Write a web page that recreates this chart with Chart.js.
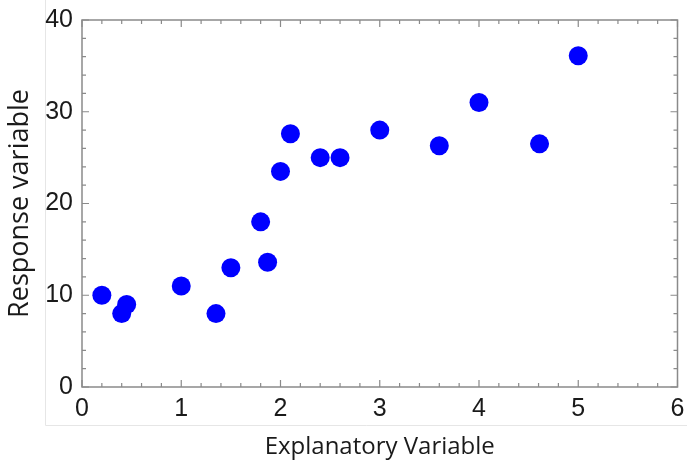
<!DOCTYPE html>
<html>
<head>
<meta charset="utf-8">
<script src="https://cdn.jsdelivr.net/npm/chart.js@4"></script>
<style>
  body { margin: 0; background: #fff; }
  #wrap { width: 687px; height: 463px; }
</style>
</head>
<body>
<div id="wrap"><canvas id="chart" width="687" height="463"></canvas></div>
<script>
// data
const xValues = [0.2, 0.4, 0.45, 1.0, 1.35, 1.5, 1.8, 1.87, 2.0, 2.1, 2.4, 2.6, 3.0, 3.6, 4.0, 4.61, 5.0];
const yValues = [10, 8, 9, 11, 8, 13, 18, 13.6, 23.5, 27.6, 25, 25, 28, 26.3, 31, 26.5, 36.1];
const xTicks = [0, 1, 2, 3, 4, 5, 6];
const yTicks = [0, 10, 20, 30, 40];
const xMinorStep = 0.2;
const yMinorStep = 2;
const xTitle = 'Explanatory Variable';
const yTitle = 'Response variable';

const points = xValues.map((x, i) => ({ x: x, y: yValues[i] }));

// light outer frame + axis box with inward ticks
const framePlugin = {
  id: 'frame',
  beforeDraw(chart) {
    const ctx = chart.ctx;
    ctx.save();
    ctx.strokeStyle = '#e6e6e6';
    ctx.lineWidth = 1;
    ctx.beginPath();
    ctx.moveTo(45.5, 0);
    ctx.lineTo(45.5, 425.5);
    ctx.lineTo(687, 425.5);
    ctx.stroke();
    ctx.restore();
  },
  beforeDatasetsDraw(chart) {
    const { ctx, chartArea: a, scales: { x, y } } = chart;
    ctx.save();
    ctx.strokeStyle = '#8a8a8a';
    ctx.lineWidth = 1.5;
    ctx.strokeRect(a.left, a.top, a.right - a.left, a.bottom - a.top);
    ctx.lineWidth = 1.2;
    ctx.beginPath();
    for (let v = 0; v <= 6.0001; v += xMinorStep) {
      const major = Math.abs(v - Math.round(v)) < 1e-6;
      const len = major ? 7 : 4;
      const px = x.getPixelForValue(v);
      ctx.moveTo(px, a.bottom); ctx.lineTo(px, a.bottom - len);
      ctx.moveTo(px, a.top); ctx.lineTo(px, a.top + len);
    }
    for (let v = 0; v <= 40.0001; v += yMinorStep) {
      const major = v % 10 === 0;
      const len = major ? 7 : 4;
      const py = y.getPixelForValue(v);
      ctx.moveTo(a.left, py); ctx.lineTo(a.left + len, py);
      ctx.moveTo(a.right, py); ctx.lineTo(a.right - len, py);
    }
    ctx.stroke();
    ctx.restore();
  }
};

new Chart(document.getElementById('chart'), {
  type: 'scatter',
  data: {
    datasets: [{
      data: points,
      backgroundColor: '#0000ff',
      borderWidth: 0,
      pointRadius: 9.5,
      pointHoverRadius: 9.5
    }]
  },
  options: {
    responsive: false,
    animation: false,
    layout: { padding: { top: 20, right: 9, left: 0, bottom: 0 } },
    plugins: { legend: { display: false }, tooltip: { enabled: false } },
    scales: {
      x: {
        type: 'linear',
        min: 0, max: 6,
        afterBuildTicks: s => { s.ticks = xTicks.map(v => ({ value: v })); },
        afterFit: s => { s.height = 76; s.paddingLeft = 0; s.paddingRight = 0; },
        grid: { display: false, drawTicks: false },
        border: { display: false },
        ticks: {
          padding: 7,
          color: '#1a1a1a',
          font: { family: '"Liberation Sans", Arial, sans-serif', size: 25 }
        },
        title: {
          display: true,
          text: xTitle,
          color: '#1a1a1a',
          font: { family: '"Open Sans", sans-serif', size: 24 },
          padding: { top: 0, bottom: 1 }
        }
      },
      y: {
        type: 'linear',
        min: 0, max: 40,
        afterBuildTicks: s => { s.ticks = yTicks.map(v => ({ value: v })); },
        afterFit: s => { s.width = 82; s.paddingTop = 0; s.paddingBottom = 0; },
        grid: { display: false, drawTicks: false },
        border: { display: false },
        ticks: {
          padding: 9,
          color: '#1a1a1a',
          font: { family: '"Liberation Sans", Arial, sans-serif', size: 25 }
        },
        title: {
          display: true,
          text: yTitle,
          color: '#1a1a1a',
          font: { family: '"Open Sans", sans-serif', size: 27 },
          padding: { top: 4, bottom: 0 }
        }
      }
    }
  },
  plugins: [framePlugin]
});
</script>
</body>
</html>
